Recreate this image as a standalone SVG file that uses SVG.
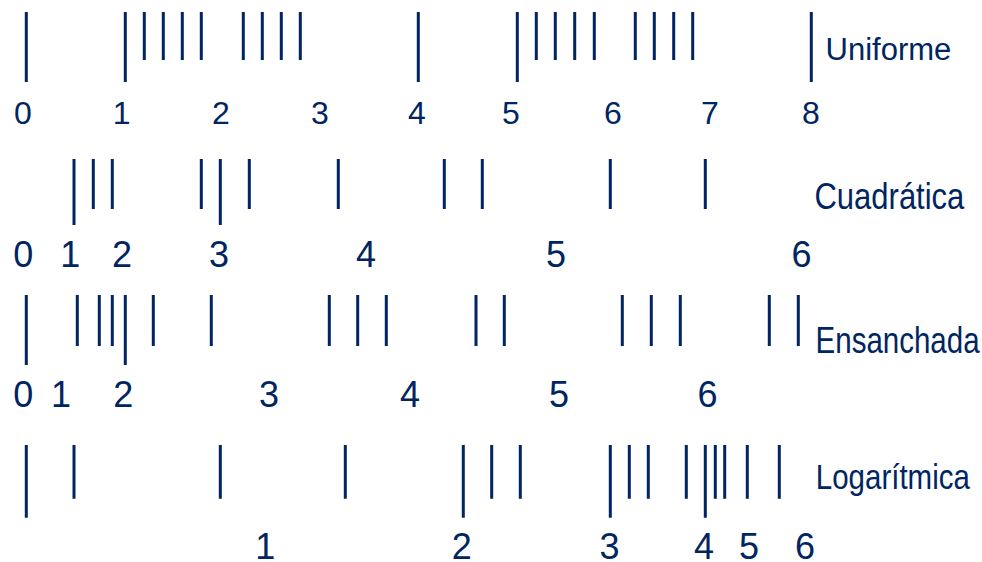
<svg xmlns="http://www.w3.org/2000/svg" width="982" height="562" viewBox="0 0 982 562">
<style>
.t{stroke:#002561;stroke-width:3;fill:none}
.d1{font-family:"Liberation Sans",Arial,sans-serif;font-size:32px;fill:#002561;text-anchor:middle}
.d2{font-family:"Liberation Sans",Arial,sans-serif;font-size:36px;fill:#002561;text-anchor:middle}
.w{font-family:"Liberation Sans",Arial,sans-serif;fill:#002561}
</style>
<rect width="982" height="562" fill="#ffffff"/>

<g id="uniforme">
  <path class="t" d="M26.3 12V82M125.3 12V82M418.3 12V82M517.3 12V82M811.3 12V82
    M144.3 12V60M163.3 12V60M182.3 12V60M201.3 12V60
    M243.3 12V60M262.3 12V60M281.3 12V60M300.3 12V60
    M536.3 12V60M555.3 12V60M574.7 12V60M594.3 12V60
    M635.3 12V60M654.3 12V60M673.7 12V60M692.7 12V60"/>
  <text class="d1" x="23" y="124">0</text>
  <text class="d1" x="121.7" y="124">1</text>
  <text class="d1" x="221" y="124">2</text>
  <text class="d1" x="320" y="124">3</text>
  <text class="d1" x="417" y="124">4</text>
  <text class="d1" x="511" y="124">5</text>
  <text class="d1" x="613" y="124">6</text>
  <text class="d1" x="710" y="124">7</text>
  <text class="d1" x="811" y="124">8</text>
  <text class="w" font-size="31" x="825.6" y="60">Uniforme</text>
</g>

<g id="cuadratica">
  <path class="t" d="M74 159V225M220.3 159V225
    M93.3 159V209M112.3 159V209M201.3 159V209M249.3 159V209M338.3 159V209
    M444.3 159V209M482.3 159V209M610.3 159V209M705.3 159V209"/>
  <text class="d2" x="23.3" y="266.7">0</text>
  <text class="d2" x="70.3" y="266.7">1</text>
  <text class="d2" x="122" y="266.7">2</text>
  <text class="d2" x="219" y="266.7">3</text>
  <text class="d2" x="366" y="266.7">4</text>
  <text class="d2" x="556" y="266.7">5</text>
  <text class="d2" x="801.5" y="266.7">6</text>
  <text class="w" font-size="31" transform="translate(814.5 209) scale(1 1.17)">Cuadrática</text>
</g>

<g id="ensanchada">
  <path class="t" d="M26.3 295V365M125.3 295V365
    M77.3 295V346M99.3 295V346M112.3 295V346M153.3 295V346M211.3 295V346
    M329.3 295V346M357.7 295V346M386.3 295V346M476 295V346M504.3 295V346
    M622.3 295V346M651.3 295V346M680.3 295V346M769.3 295V346M798.3 295V346"/>
  <text class="d2" x="23.3" y="406.7">0</text>
  <text class="d2" x="61" y="406.7">1</text>
  <text class="d2" x="123.3" y="406.7">2</text>
  <text class="d2" x="269" y="406.7">3</text>
  <text class="d2" x="410" y="406.7">4</text>
  <text class="d2" x="559" y="406.7">5</text>
  <text class="d2" x="707.5" y="406.7">6</text>
  <text class="w" font-size="29.5" transform="translate(815.6 352.7) scale(1 1.23)">Ensanchada</text>
</g>

<g id="logaritmica">
  <path class="t" d="M26.3 445V517.7M463.3 445V517.7M610.3 445V517.7M705.3 445V517.7
    M74 445V498.7M220.3 445V498.7M345.3 445V498.7M491.7 445V498.7M520.3 445V498.7
    M629.3 445V498.7M648.3 445V498.7M686.3 445V498.7M715.3 445V498.7M724.7 445V498.7
    M747.3 445V498.7M779.3 445V498.7"/>
  <text class="d2" x="265.3" y="559">1</text>
  <text class="d2" x="461.7" y="559">2</text>
  <text class="d2" x="609.5" y="559">3</text>
  <text class="d2" x="704" y="559">4</text>
  <text class="d2" x="749" y="559">5</text>
  <text class="d2" x="805" y="559">6</text>
  <text class="w" font-size="29.5" transform="translate(815.8 489) scale(1 1.17)">Logarítmica</text>
</g>
</svg>
